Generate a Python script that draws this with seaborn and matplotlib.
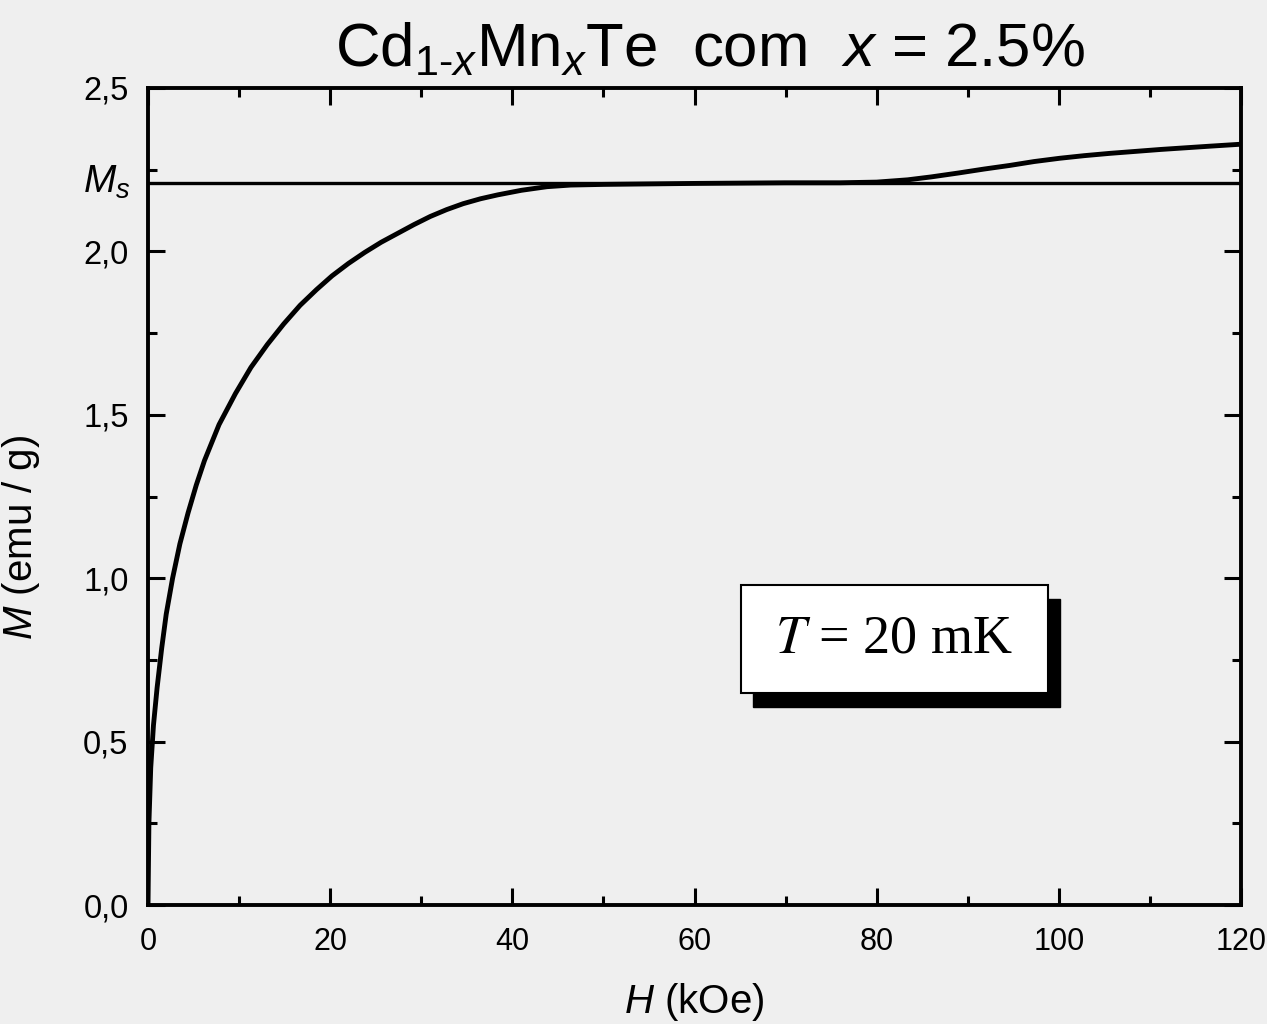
import matplotlib
matplotlib.use("Agg")
import matplotlib.pyplot as plt
import seaborn as sns
import pandas as pd
from matplotlib.patches import Rectangle
from matplotlib.ticker import MultipleLocator
import matplotlib.transforms as mtransforms

# ---- data ----
H_field = [0, 0.1, 0.3, 0.6, 1.0, 1.5, 2.0, 2.7, 3.5, 4.4, 5.3, 6.2, 7.8, 9.6,
           11.3, 13.1, 14.9, 16.7, 18.5, 20.2, 22.0, 23.8, 25.6, 27.4, 29.2,
           31.0, 32.8, 34.6, 36.5, 38.4, 41.0, 43.8, 46.4, 50, 60, 70, 76, 80,
           83.4, 86.0, 89.0, 91.8, 94.6, 97.3, 100.1, 102.8, 105.6, 108.4,
           111.2, 113.9, 116.6, 120]
M_values = [0, 0.25, 0.42, 0.55, 0.665, 0.785, 0.89, 1.0, 1.105, 1.2, 1.285,
            1.36, 1.47, 1.565, 1.645, 1.715, 1.778, 1.835, 1.883, 1.925, 1.963,
            1.997, 2.028, 2.055, 2.082, 2.107, 2.128, 2.146, 2.161, 2.173,
            2.187, 2.198, 2.203, 2.205, 2.208, 2.21, 2.21, 2.212, 2.219, 2.228,
            2.24, 2.252, 2.263, 2.275, 2.285, 2.293, 2.3, 2.306, 2.312,
            2.317, 2.322, 2.328]
Ms_field = [0, 120]
Ms_values = [2.21, 2.21]

x_ticks = [0, 20, 40, 60, 80, 100, 120]
x_tick_labels = ["0", "20", "40", "60", "80", "100", "120"]
y_ticks = [0.0, 0.5, 1.0, 1.5, 2.0, 2.5]
y_tick_labels = ["0,0", "0,5", "1,0", "1,5", "2,0", "2,5"]

title_text = "Cd$_{1\u2010x}$Mn$_x$Te  com  $x$ = 2.5%"
box_text = r"$T$ = 20 mK"

sns.set_style("ticks")
plt.rcParams["font.family"] = ["Liberation Sans", "DejaVu Sans"]
plt.rcParams["mathtext.fontset"] = "custom"
plt.rcParams["mathtext.rm"] = "Liberation Sans"
plt.rcParams["mathtext.it"] = "Liberation Sans:italic"
plt.rcParams["mathtext.bf"] = "Liberation Sans:bold"
for k in ["text.color", "axes.labelcolor", "xtick.color", "ytick.color",
          "axes.edgecolor"]:
    plt.rcParams[k] = "black"

bg = "#efefef"
W, Hpx = 1267, 1024
fig = plt.figure(figsize=(W / 100, Hpx / 100), dpi=100, facecolor=bg)
ax = fig.add_axes([148 / W, 1 - 905 / Hpx, (1241 - 148) / W, (905 - 88) / Hpx])
ax.set_facecolor(bg)

curve = pd.DataFrame({"H": H_field, "M": M_values})
msdf = pd.DataFrame({"H": Ms_field, "M": Ms_values})
sns.lineplot(data=msdf, x="H", y="M", ax=ax, color="black", lw=2.4,
             estimator=None, sort=False)
sns.lineplot(data=curve, x="H", y="M", ax=ax, color="black", lw=3.5,
             estimator=None, sort=False)

ax.set_xlim(0, 120)
ax.set_ylim(0, 2.5)
ax.set_xticks(x_ticks)
ax.set_xticklabels(x_tick_labels)
ax.set_yticks(y_ticks)
ax.set_yticklabels(y_tick_labels)
ax.xaxis.set_minor_locator(MultipleLocator(10))
ax.yaxis.set_minor_locator(MultipleLocator(0.25))
ax.tick_params(which="both", direction="in", top=True, right=True,
               width=2.2, color="black")
ax.tick_params(which="major", length=12)
ax.tick_params(which="minor", length=6.5)
ax.tick_params(axis="x", which="major", labelsize=22, pad=16)
ax.tick_params(axis="y", which="major", labelsize=23.5, pad=14)
for s in ax.spines.values():
    s.set_linewidth(2.8)
    s.set_color("black")

ax.set_xlabel(r"$H$ (kOe)", fontsize=29)
ax.set_ylabel(r"$M$ (emu / g)", fontsize=29)
ax.xaxis.set_label_coords(0.5, -0.093)
ax.yaxis.set_label_coords(-0.097, 0.45)

# Ms label at the left side
trans = mtransforms.blended_transform_factory(ax.transAxes, ax.transData)
ax.text(-0.016, Ms_values[0], r"$M_s$", transform=trans, ha="right",
        va="center", fontsize=28)

# title
fig.text(0.56, 1 - 66 / Hpx, title_text, ha="center", va="baseline",
         fontsize=44.5)

# T = 20 mK box with shadow
x0, x1 = 0.5425, 0.8234
y0, y1 = 0.2595, 0.3917
dx, dy = 0.011, 0.0171
ax.add_patch(Rectangle((x0 + dx, y0 - dy), x1 - x0, y1 - y0,
                       transform=ax.transAxes, facecolor="black",
                       edgecolor="black", zorder=5))
ax.add_patch(Rectangle((x0, y0), x1 - x0, y1 - y0, transform=ax.transAxes,
                       facecolor="white", edgecolor="black", lw=1.5, zorder=6))
ax.text((x0 + x1) / 2, (y0 + y1) / 2, box_text, transform=ax.transAxes,
        ha="center", va="center", fontsize=39, zorder=7,
        family=["Liberation Serif", "DejaVu Serif"], math_fontfamily="stix")

fig.savefig("out.png", dpi=100, facecolor=bg)
